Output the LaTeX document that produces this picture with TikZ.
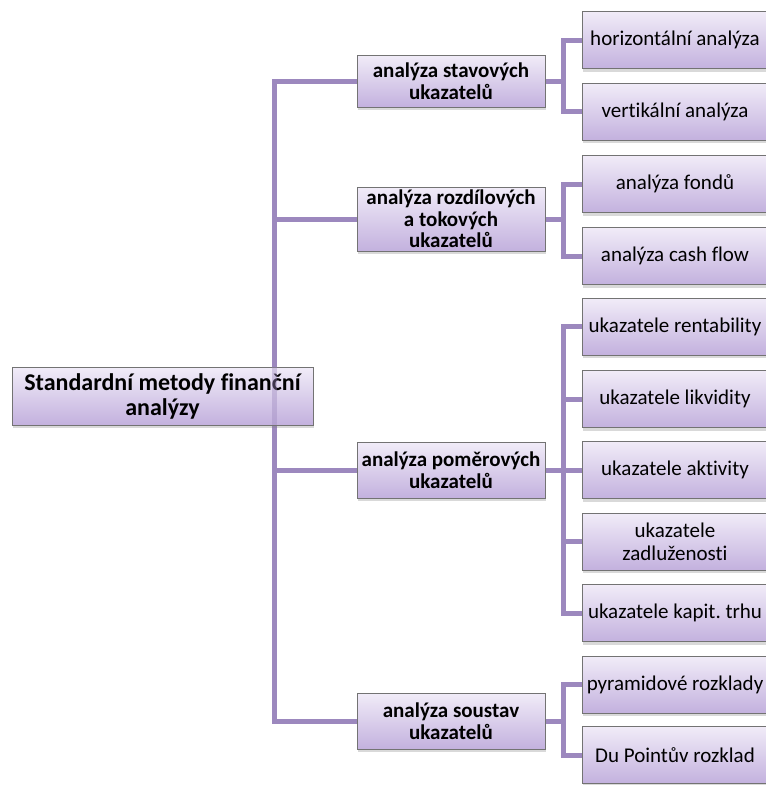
\documentclass[tikz,border=0pt]{standalone}
\usepackage{fontspec}
\setmainfont{Carlito}[Ligatures=NoCommon]
\usetikzlibrary{shadows,backgrounds}
\frenchspacing

\definecolor{lila}{RGB}{156,136,190}
\definecolor{lilatop}{RGB}{241,236,248}
\definecolor{lilabot}{RGB}{195,177,222}

\tikzset{
  box/.style={draw=black!55, top color=lilatop, bottom color=lilabot, align=center, inner sep=1pt,
    drop shadow={opacity=0.3, shadow xshift=1pt, shadow yshift=-3pt}},
  headbox/.style={box, minimum width=188pt, font=\fontsize{21}{21.5}\selectfont\bfseries},
  leafbox/.style={box, minimum width=186pt, minimum height=57pt, font=\fontsize{21}{23}\selectfont},
  link/.style={lila, line width=5pt},
}

\begin{document}
\begin{tikzpicture}[x=1pt,y=-1pt]
\useasboundingbox (0,0) rectangle (766,785);

\node[box, minimum width=301pt, minimum height=58pt,
  font=\fontsize{24}{25}\selectfont\bfseries] (root) at (162.5,396) {Standardní metody finanční\\analýzy};
\coordinate (trunk) at (274,396);

\foreach \n/\y/\h/\t in {a1/81/52/{analýza stavových\\ukazatelů},
                          a2/219/64/{analýza rozdílových\\a tokových\\ukazatelů},
                          a3/470/56/{analýza poměrových\\ukazatelů},
                          a4/721/56/{analýza soustav\\ukazatelů}} {
        \node[headbox, minimum height=\h pt] (\n) at (451,\y) {\t};
}

\foreach \n/\y/\t in {h1/40/{horizontální analýza}, h2/111.5/{vertikální analýza},
                      h3/184/{analýza fondů}, h4/256/{analýza cash flow},
                      h5/326.5/{ukazatele rentability}, h6/399/{ukazatele likvidity},
                      h7/470/{ukazatele aktivity}, h8/541.5/{ukazatele\\zadluženosti},
                      h9/613/{ukazatele kapit. trhu}, h10/684.5/{pyramidové rozklady},
                      h11/755/{Du Pointův rozklad}} {
        \node[leafbox] (\n) at (675,\y) {\t};
}

\begin{scope}[on background layer]
\foreach \n in {a1,a2,a3,a4} {
        \draw[link] (trunk) |- (\n.west);
}
\foreach \p/\n in {a1/h1, a1/h2, a2/h3, a2/h4, a3/h5, a3/h6, a3/h7, a3/h8, a3/h9, a4/h10, a4/h11} {
        \draw[link] (\p.east) -- ++(18,0) |- (\n.west);
}
\end{scope}

\draw[link, opacity=0.4] (root.north -| trunk) -- (root.south -| trunk);

\end{tikzpicture}
\end{document}
